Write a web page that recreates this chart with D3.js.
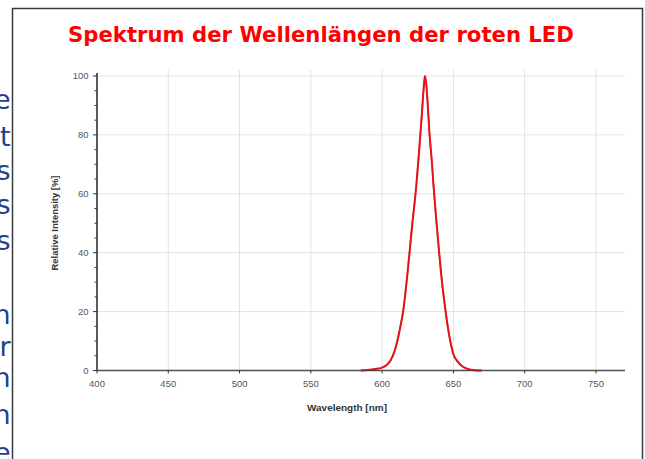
<!DOCTYPE html>
<html><head><meta charset="utf-8">
<script src="https://cdn.jsdelivr.net/npm/d3@7"></script>
<style>body{margin:0;background:#fff;}svg{display:block;}</style>
</head><body>
<svg id="c" width="645" height="459"></svg>
<script>
const titleText = "Spektrum der Wellenlängen der roten LED";
const xLabel = "Wavelength [nm]";
const yLabel = "Relative Intensity [%]";
const xTicks = [400, 450, 500, 550, 600, 650, 700, 750];
const yTicks = [0, 20, 40, 60, 80, 100];
const wavelength = [585, 590, 595, 600, 603, 606, 609, 612, 615, 618, 621, 624, 626, 628, 629, 630, 631, 632, 633, 635, 636, 638, 640, 642, 644, 646, 648, 650, 653, 656, 660, 665, 670];
const intensity  = [0, 0.2, 0.5, 1.0, 1.8, 3.5, 7, 13, 21, 34, 49, 63, 75, 88, 95, 100, 97, 90, 82, 70, 63, 51, 40, 30, 22, 15, 9.5, 5.5, 3, 1.5, 0.5, 0.1, 0];
const sideLetters = ["e", "t", "s", "s", "s", "n", "r", "n", "n", "e"];
const sideY = [109, 146, 180, 214, 250, 324, 356, 387, 424, 462];

const svg = d3.select("#c");
svg.append("rect").attr("width", 645).attr("height", 459).attr("fill", "#fff");

// side text fragments (cut by the left edge, as in the reference)
svg.selectAll("text.side").data(sideLetters).join("text")
  .attr("class", "side")
  .attr("x", 10.5).attr("y", (d, i) => sideY[i])
  .attr("text-anchor", "end")
  .attr("font-family", "DejaVu Sans, Verdana, sans-serif")
  .attr("font-size", 27).attr("fill", "#23408e")
  .text(d => d);

// frame
svg.append("path").attr("d", "M12.5,459 V8.5 H642.5 V459")
  .attr("fill", "none").attr("stroke", "#3a3a3a").attr("stroke-width", 1.5);

function fit(sel, w) {
  const fs = parseFloat(sel.attr("font-size"));
  const cur = sel.node().getComputedTextLength();
  sel.attr("font-size", fs * w / cur);
}

const title = svg.append("text").attr("x", 321).attr("y", 42)
  .attr("text-anchor", "middle")
  .attr("font-family", "DejaVu Sans, Verdana, sans-serif")
  .attr("font-weight", "bold").attr("font-size", 20).attr("fill", "#ff0000")
  .text(titleText);
fit(title, 506);

const x = d3.scaleLinear().domain([400, 750]).range([97, 596]);
const y = d3.scaleLinear().domain([0, 100]).range([370.5, 76]);
const xMax = x.invert(625);
const yMax = y.invert(70);

const g = svg.append("g");
// grid
g.selectAll("line.vg").data(xTicks.filter(d => d > 400)).join("line")
  .attr("x1", d => x(d)).attr("x2", d => x(d))
  .attr("y1", y(0)).attr("y2", y(yMax))
  .attr("stroke", "#e2e2e2").attr("stroke-width", 1);
g.selectAll("line.hg").data(yTicks.filter(d => d > 0)).join("line")
  .attr("x1", x(400)).attr("x2", x(xMax))
  .attr("y1", d => y(d)).attr("y2", d => y(d))
  .attr("stroke", "#e2e2e2").attr("stroke-width", 1);

// y axis
const yMinor = d3.range(0, 101, 5);
g.selectAll("line.ymt").data(yMinor).join("line")
  .attr("x1", d => d % 20 === 0 ? x(400) - 4 : x(400) - 2.5).attr("x2", x(400))
  .attr("y1", d => y(d)).attr("y2", d => y(d))
  .attr("stroke", "#333").attr("stroke-width", 1);
g.append("line").attr("x1", x(400)).attr("x2", x(400))
  .attr("y1", y(0)).attr("y2", y(101))
  .attr("stroke", "#333").attr("stroke-width", 1.6);
g.selectAll("text.yl").data(yTicks).join("text")
  .attr("x", 88.5).attr("y", d => y(d) + 3.3)
  .attr("text-anchor", "end")
  .attr("font-family", "Liberation Sans, Arial, sans-serif")
  .attr("font-size", 9.5).attr("fill", "#555")
  .text(d => d);

// x axis
g.selectAll("line.xt").data(xTicks).join("line")
  .attr("x1", d => x(d)).attr("x2", d => x(d))
  .attr("y1", y(0)).attr("y2", y(0) + 3)
  .attr("stroke", "#333").attr("stroke-width", 1);
g.selectAll("text.xl").data(xTicks).join("text")
  .attr("x", d => x(d)).attr("y", 386.5)
  .attr("text-anchor", "middle")
  .attr("font-family", "Liberation Sans, Arial, sans-serif")
  .attr("font-size", 9.5).attr("fill", "#555")
  .text(d => d);

// curve
const line = d3.line().x(d => x(d)).y((d, i) => y(intensity[i])).curve(d3.curveMonotoneX);
g.append("path").attr("d", line(wavelength))
  .attr("fill", "none").attr("stroke", "#e3161b").attr("stroke-width", 2);

g.append("line").attr("x1", x(400)).attr("x2", x(xMax))
  .attr("y1", y(0)).attr("y2", y(0))
  .attr("stroke", "#333").attr("stroke-width", 1.6).attr("opacity", 0.85);
g.append("path").attr("d", line(wavelength))
  .attr("fill", "none").attr("stroke", "#e3161b").attr("stroke-width", 1.6)
  .attr("stroke-opacity", 0.6);

// axis titles
const xt = svg.append("text").attr("x", 347).attr("y", 411)
  .attr("text-anchor", "middle")
  .attr("font-family", "Liberation Sans, Arial, sans-serif")
  .attr("font-weight", "bold").attr("font-size", 8).attr("fill", "#333")
  .text(xLabel);
fit(xt, 80);
const yt = svg.append("text")
  .attr("transform", "translate(58,223) rotate(-90)")
  .attr("text-anchor", "middle")
  .attr("font-family", "Liberation Sans, Arial, sans-serif")
  .attr("font-weight", "bold").attr("font-size", 7).attr("fill", "#333")
  .text(yLabel);
fit(yt, 95);
</script>
</body></html>
